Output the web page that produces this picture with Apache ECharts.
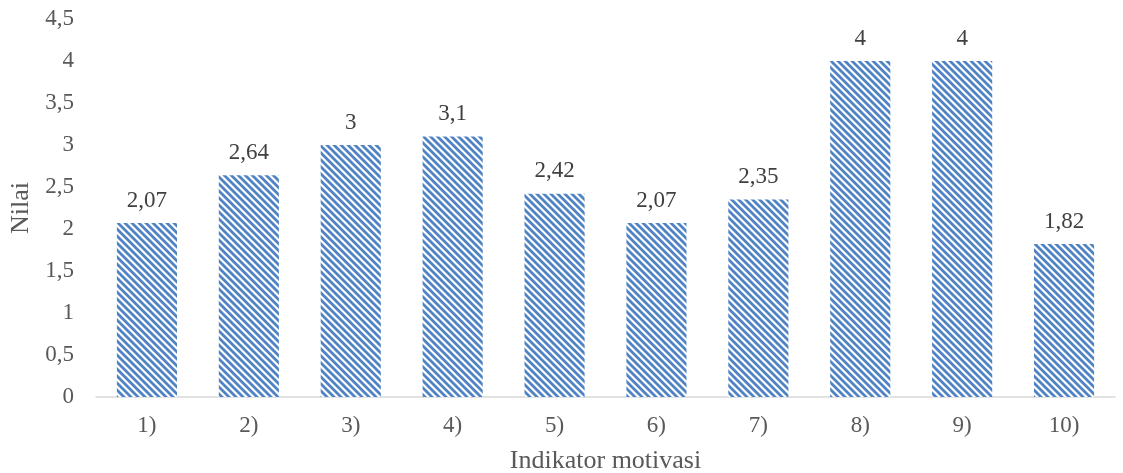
<!DOCTYPE html>
<html>
<head>
<meta charset="utf-8">
<script src="https://cdn.jsdelivr.net/npm/echarts@6/dist/echarts.min.js"></script>
<style>
  html, body { margin: 0; padding: 0; background: #fff; }
  #main { width: 1123px; height: 473px; }
</style>
</head>
<body>
<div id="main"></div>
<script>
var categories = ['1)', '2)', '3)', '4)', '5)', '6)', '7)', '8)', '9)', '10)'];
var nilai = [2.07, 2.64, 3, 3.1, 2.42, 2.07, 2.35, 4, 4, 1.82];

// diagonal stripe pattern for the bars
function stripes() {
    var c = document.createElement('canvas');
    c.width = 7; c.height = 7;
    var ctx = c.getContext('2d');
    ctx.fillStyle = '#fff';
    ctx.fillRect(0, 0, 7, 7);
    ctx.strokeStyle = '#4f83c4';
    ctx.lineWidth = 2.8;
    ctx.beginPath();
    for (var k = -7; k <= 7; k += 7) {
        ctx.moveTo(k - 1, -1);
        ctx.lineTo(k + 8, 8);
    }
    ctx.stroke();
    return c;
}

function comma(v) { return String(v).replace('.', ','); }

var myChart = echarts.init(document.getElementById('main'));
myChart.setOption({
    animation: false,
    textStyle: { fontFamily: 'Liberation Serif' },
    grid: { left: 96, right: 8, top: 19, bottom: 76, containLabel: false, outerBoundsMode: 'none' },
    xAxis: {
        type: 'category',
        data: categories,
        name: 'Indikator motivasi',
        nameLocation: 'middle',
        nameGap: 51,
        nameTextStyle: { fontSize: 26, color: '#595959', fontFamily: 'Liberation Serif' },
        axisLine: { lineStyle: { color: '#d9d9d9', width: 1.5 } },
        axisTick: { show: false },
        axisLabel: { fontSize: 23, color: '#595959', margin: 17 }
    },
    yAxis: {
        type: 'value',
        min: 0, max: 4.5, interval: 0.5,
        name: 'Nilai',
        nameLocation: 'middle',
        nameGap: 55,
        nameTextStyle: { fontSize: 26, color: '#595959', fontFamily: 'Liberation Serif' },
        axisLine: { show: false },
        axisTick: { show: false },
        splitLine: { show: false },
        axisLabel: { fontSize: 23, color: '#595959', margin: 22, formatter: comma }
    },
    series: [{
        type: 'bar',
        data: nilai,
        barWidth: '59%',
        itemStyle: { color: { image: stripes(), repeat: 'repeat' } },
        label: {
            show: true,
            position: 'top',
            distance: 11,
            fontSize: 23,
            color: '#404040',
            formatter: function (p) { return comma(p.value); }
        }
    }]
});
</script>
</body>
</html>
